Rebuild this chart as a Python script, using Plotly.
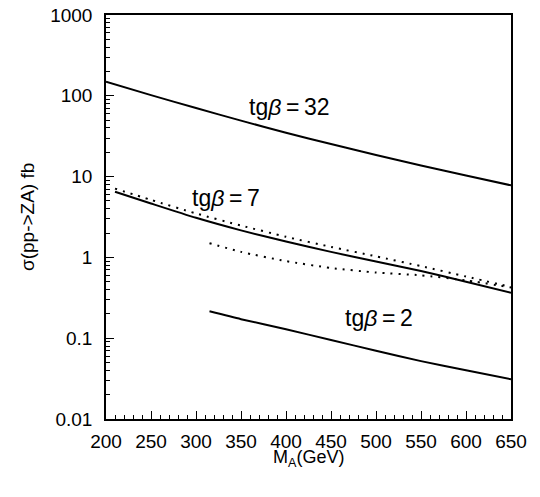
import numpy as np
import plotly.graph_objects as go

# ---- data ----
ma_32 = [200, 250, 300, 350, 400, 450, 500, 550, 600, 650]
sig_32 = [149, 101.9, 70.5, 49.3, 34.9, 25.3, 18.5, 13.7, 10.3, 7.8]

ma_7 = [210, 250, 300, 350, 400, 450, 500, 550, 600, 650]
sig_7 = [6.5, 4.65, 3.09, 2.16, 1.57, 1.17, 0.89, 0.68, 0.50, 0.366]
sig_7_dot_up = [7.1, 5.15, 3.5, 2.48, 1.8, 1.35, 1.03, 0.78, 0.58, 0.43]

ma_7_dot_low = [315, 350, 400, 450, 500, 550, 600, 650]
sig_7_dot_low = [1.5, 1.17, 0.90, 0.74, 0.65, 0.60, 0.52, 0.425]

ma_2 = [315, 350, 400, 450, 500, 550, 600, 650]
sig_2 = [0.215, 0.172, 0.129, 0.095, 0.070, 0.052, 0.040, 0.031]

y_tickvals = [0.01, 0.1, 1, 10, 100, 1000]
y_ticktext = ["0.01", "0.1", "1", "10", "100", "1000"]
y_minor = [m * 10.0 ** k for k in range(-2, 3) for m in range(2, 10)]

TS = "\u2009"
labels = [
    ("tg<i>β</i>" + TS + "=" + TS + "32", 404, 72.6),
    ("tg<i>β</i>" + TS + "=" + TS + "7", 333, 5.4),
    ("tg<i>β</i>" + TS + "=" + TS + "2", 503, 0.18),
]

FONT = "Liberation Sans, Arial, sans-serif"

fig = go.Figure()
solid = dict(color="black", width=2, shape="spline", smoothing=0.6)
dotted = dict(color="black", width=2, dash="2px,6px", shape="spline", smoothing=0.6)

fig.add_trace(go.Scatter(x=ma_32, y=sig_32, mode="lines", line=solid))
fig.add_trace(go.Scatter(x=ma_7, y=sig_7, mode="lines", line=solid))
fig.add_trace(go.Scatter(x=ma_7, y=sig_7_dot_up, mode="lines", line=dotted))
fig.add_trace(go.Scatter(x=ma_7_dot_low, y=sig_7_dot_low, mode="lines", line=dotted))
fig.add_trace(go.Scatter(x=ma_2, y=sig_2, mode="lines", line=solid))

annotations = []
for txt, x, y in labels:
    annotations.append(dict(x=x, y=np.log10(y), xref="x", yref="y", text=txt,
                            xanchor="center", yanchor="middle",
                            showarrow=False, font=dict(size=23, color="black", family=FONT)))
annotations.append(dict(x=-0.195, y=0.5, xref="paper", yref="paper",
                        xanchor="center", yanchor="middle",
                        text="σ(pp-&gt;ZA) fb", textangle=-90, showarrow=False,
                        font=dict(size=19, color="black", family=FONT)))
annotations.append(dict(x=0.5, y=-0.097, xref="paper", yref="paper",
                        xanchor="center", yanchor="middle",
                        text="M<sub>A</sub>(GeV)", showarrow=False,
                        font=dict(size=18, color="black", family=FONT)))

fig.update_layout(
    width=532, height=489,
    margin=dict(l=98, r=29, t=7, b=78, autoexpand=False),
    paper_bgcolor="white", plot_bgcolor="white",
    showlegend=False,
    font=dict(family=FONT, size=19, color="black"),
    annotations=annotations,
)
fig.update_xaxes(
    range=[200, 650], tickmode="linear", tick0=200, dtick=50,
    ticks="inside", ticklen=8, tickwidth=1, tickcolor="black",
    showline=True, linecolor="black", linewidth=1.5, mirror=True,
    showgrid=False, zeroline=False, ticklabelstandoff=4, automargin=False,
    ticklabeloverflow="allow",
    minor=dict(dtick=10, tick0=200, ticks="inside", ticklen=4, tickcolor="black", showgrid=False),
)
fig.update_yaxes(
    type="log", range=[-2, 3], tickvals=y_tickvals, ticktext=y_ticktext,
    ticks="inside", ticklen=8, tickwidth=1, tickcolor="black",
    showline=True, linecolor="black", linewidth=1.5, mirror=True,
    showgrid=False, zeroline=False, ticklabelstandoff=8, automargin=False,
    ticklabeloverflow="allow",
    minor=dict(tickvals=y_minor, ticks="inside", ticklen=4, tickcolor="black", showgrid=False),
)

fig.write_html("out.html")
